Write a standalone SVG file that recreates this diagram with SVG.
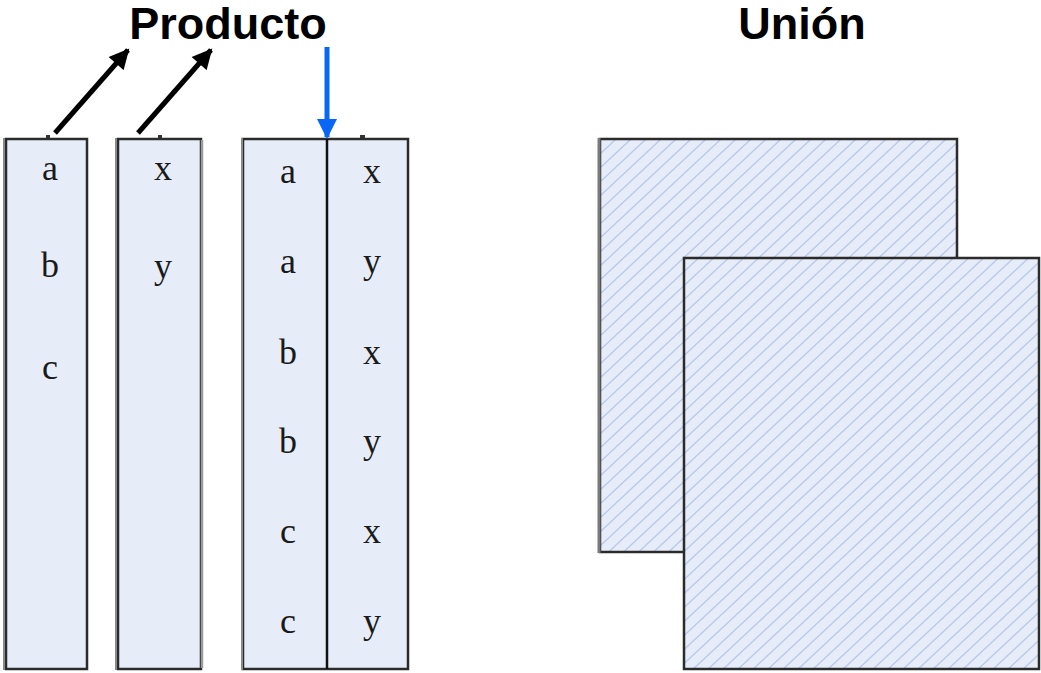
<svg xmlns="http://www.w3.org/2000/svg" width="1041" height="673" viewBox="0 0 1041 673">
  <defs>
    <!-- light fill with thin diagonal hatch rising to the right -->
    <pattern id="hatch" patternUnits="userSpaceOnUse" width="15" height="14">
      <rect width="15" height="14" fill="#e7edf8"/>
      <g stroke="#b9c9ea" stroke-width="1.3">
        <line x1="0" y1="14" x2="15" y2="0"/>
        <line x1="-2" y1="1.87" x2="2" y2="-1.87"/>
        <line x1="13" y1="15.87" x2="17" y2="12.13"/>
      </g>
    </pattern>
    <marker id="headBlack" viewBox="0 0 10 10" refX="9" refY="5" markerWidth="4.4" markerHeight="4" orient="auto" markerUnits="strokeWidth">
      <path d="M0,0 L10,5 L0,10 z" fill="#000"/>
    </marker>
    <marker id="headBlue" viewBox="0 0 10 10" refX="9" refY="5" markerWidth="4" markerHeight="4" orient="auto" markerUnits="strokeWidth">
      <path d="M0,0 L10,5 L0,10 z" fill="#0a66f5"/>
    </marker>
  </defs>
  <style>
    .title { font-family: "Liberation Sans", Arial, sans-serif; font-weight: bold; font-size: 45px; fill: #000; text-anchor: middle; }
    .val { font-family: "Liberation Serif", "Times New Roman", serif; font-size: 36px; fill: #1a1a1a; text-anchor: middle; }
    .col { fill: #e7edf8; stroke: #2b2b2b; stroke-width: 2.5; }
    .shade { stroke: #8a8a8a; stroke-width: 2; fill: none; }
    .sheet { stroke: #2b2b2b; stroke-width: 2.5; }
    .tick { fill: #333; }
  </style>

  <!-- titles -->
  <text class="title" x="228" y="39">Producto</text>
  <text class="title" x="802" y="39">Unión</text>

  <!-- relation R: single column a, b, c -->
  <g id="rel-r">
    <rect class="col" x="6" y="139" width="81" height="530"/>
    <line class="shade" x1="4" y1="138" x2="4" y2="670"/>
    <rect class="tick" x="46" y="135" width="4" height="3"/>
    <text class="val" x="50" y="180">a</text>
    <text class="val" x="50" y="277">b</text>
    <text class="val" x="50" y="379">c</text>
  </g>

  <!-- relation S: single column x, y -->
  <g id="rel-s">
    <rect class="col" x="118" y="139" width="83" height="530"/>
    <line class="shade" x1="116" y1="138" x2="116" y2="670"/>
    <line x1="202" y1="140" x2="202" y2="668" stroke="#9a9a9a" stroke-width="2.5"/>
    <rect class="tick" x="158" y="135" width="4" height="3"/>
    <text class="val" x="163" y="180">x</text>
    <text class="val" x="163" y="278">y</text>
  </g>

  <!-- cartesian product R x S -->
  <g id="rel-product">
    <rect class="col" x="243" y="139" width="165" height="530"/>
    <line class="shade" x1="242" y1="138" x2="242" y2="670"/>
    <line x1="327" y1="139" x2="327" y2="669" stroke="#111" stroke-width="2.5"/>
    <rect class="tick" x="360" y="135" width="5" height="3"/>
    <text class="val" x="288" y="183">a</text>
    <text class="val" x="288" y="273">a</text>
    <text class="val" x="288" y="364">b</text>
    <text class="val" x="288" y="453">b</text>
    <text class="val" x="288" y="543">c</text>
    <text class="val" x="288" y="633">c</text>
    <text class="val" x="372" y="183">x</text>
    <text class="val" x="372" y="273">y</text>
    <text class="val" x="372" y="364">x</text>
    <text class="val" x="372" y="453">y</text>
    <text class="val" x="372" y="543">x</text>
    <text class="val" x="372" y="633">y</text>
  </g>

  <!-- union: two overlapping hatched sheets -->
  <g id="union-a">
    <rect x="600" y="139" width="357" height="413" fill="url(#hatch)" class="sheet"/>
    <line x1="599" y1="138" x2="599" y2="553" stroke="#7a7a7a" stroke-width="3"/>
  </g>
  <g id="union-b">
    <rect x="684" y="258" width="355" height="411" fill="url(#hatch)" class="sheet"/>
  </g>

  <!-- connectors -->
  <g id="connectors" fill="none">
    <line x1="55" y1="133" x2="128" y2="50" stroke="#000" stroke-width="5" marker-end="url(#headBlack)"/>
    <line x1="138" y1="133" x2="211" y2="50" stroke="#000" stroke-width="5" marker-end="url(#headBlack)"/>
    <line x1="327" y1="47" x2="327" y2="137" stroke="#0a66f5" stroke-width="5" marker-end="url(#headBlue)"/>
  </g>
</svg>
